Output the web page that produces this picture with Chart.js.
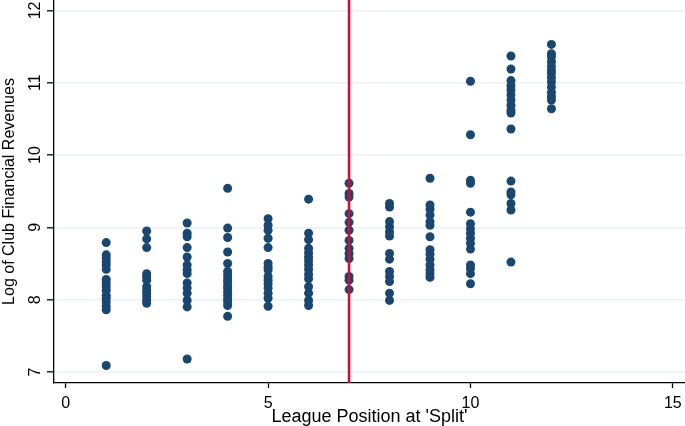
<!DOCTYPE html>
<html>
<head>
<meta charset="utf-8">
<script src="https://cdn.jsdelivr.net/npm/chart.js@4"></script>
<style>
  html, body { margin: 0; padding: 0; background: #fff; }
  #wrap { width: 685px; height: 426px; }
</style>
</head>
<body>
<div id="wrap"><canvas id="c" width="685" height="426"></canvas></div>
<script>
// League position at 'split' and log club financial revenues
const positions = [1, 2, 3, 4, 5, 6, 7, 8, 9, 10, 11, 12];
const pos1  = [8.79, 8.62, 8.57, 8.52, 8.48, 8.42, 8.28, 8.23, 8.18, 8.13, 8.06, 8.02, 7.97, 7.91, 7.86, 7.09];
const pos2  = [8.95, 8.84, 8.72, 8.36, 8.32, 8.27, 8.18, 8.13, 8.09, 8.04, 7.99, 7.95];
const pos3  = [9.06, 8.92, 8.87, 8.72, 8.59, 8.48, 8.41, 8.36, 8.23, 8.16, 8.09, 7.99, 7.90, 7.18];
const pos4  = [9.54, 8.99, 8.86, 8.66, 8.50, 8.39, 8.34, 8.29, 8.25, 8.20, 8.16, 8.11, 8.06, 8.01, 7.97, 7.92, 7.77];
const pos5  = [9.12, 9.03, 8.96, 8.85, 8.72, 8.50, 8.45, 8.41, 8.32, 8.27, 8.22, 8.16, 8.09, 8.02, 7.91];
const pos6  = [9.39, 8.92, 8.83, 8.71, 8.65, 8.59, 8.54, 8.48, 8.42, 8.35, 8.29, 8.18, 8.09, 7.99, 7.92];
const pos7  = [9.61, 9.47, 9.42, 9.19, 9.07, 8.96, 8.82, 8.71, 8.64, 8.57, 8.32, 8.27, 8.14];
const pos8  = [9.33, 9.28, 9.08, 9.01, 8.94, 8.88, 8.64, 8.56, 8.39, 8.32, 8.25, 8.09, 7.99];
const pos9  = [9.68, 9.31, 9.25, 9.17, 9.08, 9.03, 8.87, 8.69, 8.63, 8.56, 8.48, 8.41, 8.36, 8.31];
const pos10 = [11.02, 10.28, 9.65, 9.61, 9.21, 9.05, 8.98, 8.92, 8.85, 8.78, 8.70, 8.48, 8.43, 8.36, 8.22];
const pos11 = [11.37, 11.19, 11.03, 10.96, 10.90, 10.83, 10.76, 10.69, 10.62, 10.58, 10.36, 9.64, 9.49, 9.45, 9.33, 9.24, 8.52];
const pos12 = [11.53, 11.40, 11.36, 11.29, 11.23, 11.17, 11.13, 11.07, 11.01, 10.94, 10.87, 10.81, 10.76, 10.64];
const revenuesByPosition = [pos1, pos2, pos3, pos4, pos5, pos6, pos7, pos8, pos9, pos10, pos11, pos12];

const splitPosition = 7;
const xTicks = [0, 5, 10, 15];
const yTicks = [7, 8, 9, 10, 11, 12];
const xMin = -0.29, xMax = 15.3;
const yMin = 6.848, yMax = 12.144;

const points = [];
positions.forEach((p, i) => {
  revenuesByPosition[i].forEach(v => points.push({ x: p, y: v }));
});

const FONT = 'Liberation Sans, Arial, Helvetica, sans-serif';

new Chart(document.getElementById('c'), {
  type: 'scatter',
  data: {
    datasets: [
      {
        type: 'line',
        data: [{ x: splitPosition, y: yMin }, { x: splitPosition, y: yMax }],
        borderColor: '#c9103d',
        borderWidth: 2.6,
        pointRadius: 0,
        fill: false,
        order: 0
      },
      {
        data: points,
        backgroundColor: '#1a476f',
        borderColor: '#1a476f',
        borderWidth: 0,
        pointRadius: 4.5,
        order: 1
      }
    ]
  },
  options: {
    responsive: false,
    animation: false,
    devicePixelRatio: 1,
    layout: { padding: 0, autoPadding: false },
    plugins: { legend: { display: false }, tooltip: { enabled: false } },
    scales: {
      x: {
        type: 'linear',
        min: xMin, max: xMax,
        afterBuildTicks: s => { s.ticks = xTicks.map(v => ({ value: v })); },
        afterFit: s => { s.height = 43; s.paddingLeft = 0; s.paddingRight = 0; },
        grid: { drawOnChartArea: false, drawTicks: true, tickLength: 5, tickColor: '#000', tickWidth: 1.3 },
        border: { display: true, color: '#000', width: 1.3 },
        ticks: { color: '#000', font: { family: FONT, size: 16 }, padding: 6, maxRotation: 0, minRotation: 0 },
        title: { display: true, text: "League Position at 'Split'", color: '#000', font: { family: FONT, size: 18, lineHeight: 1.0 }, padding: { top: 0, bottom: 0 } }
      },
      y: {
        type: 'linear',
        min: yMin, max: yMax,
        afterBuildTicks: s => { s.ticks = yTicks.map(v => ({ value: v })); },
        afterFit: s => { s.width = 54; s.paddingTop = 0; s.paddingBottom = 0; },
        grid: { color: '#e9f1f4', lineWidth: 1.6, drawTicks: true, tickLength: 7, tickColor: '#000', tickWidth: 1.3 },
        border: { display: true, color: '#000', width: 1.3 },
        ticks: { color: '#000', font: { family: FONT, size: 16 }, padding: 3, minRotation: 90, maxRotation: 90, crossAlign: 'center' },
        title: { display: true, text: 'Log of Club Financial Revenues', color: '#000', font: { family: FONT, size: 16 }, padding: { top: 0, bottom: 0 } }
      }
    }
  }
});
</script>
</body>
</html>
